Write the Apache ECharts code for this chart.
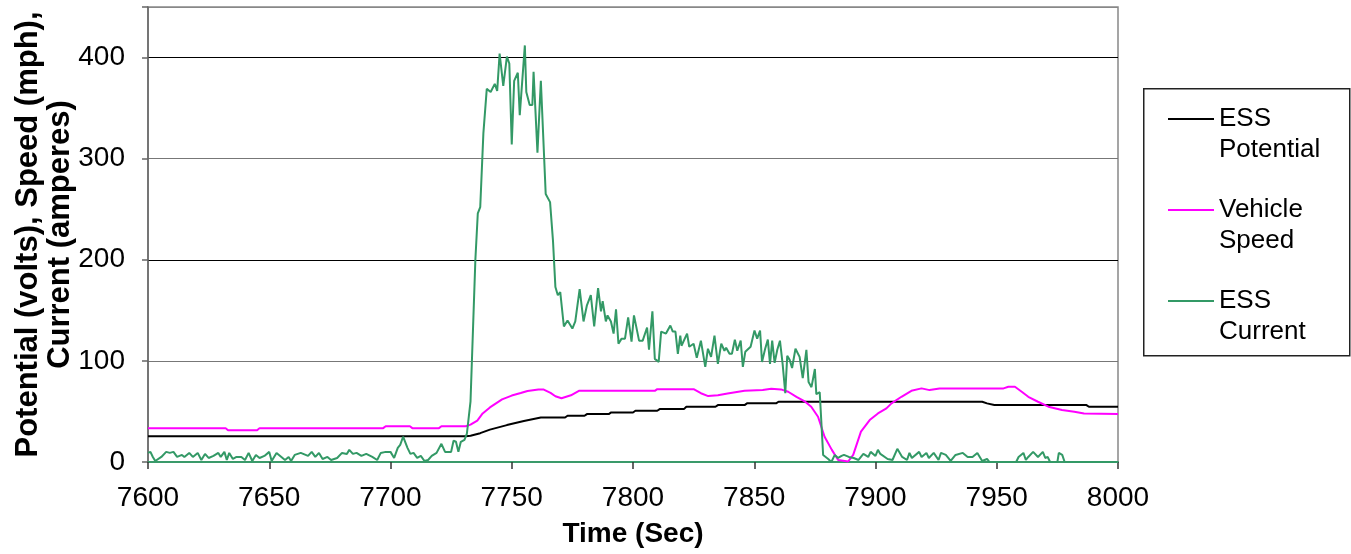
<!DOCTYPE html>
<html>
<head>
<meta charset="utf-8">
<script src="https://cdn.jsdelivr.net/npm/echarts@6/dist/echarts.min.js"></script>
<style>
  html, body { margin: 0; padding: 0; background: #fff; }
  #chart { width: 1351px; height: 554px; }
</style>
</head>
<body>
<div id="chart"></div>
<script>
// ESS potential / vehicle speed / ESS current vs time
var xTicks = [7600, 7650, 7700, 7750, 7800, 7850, 7900, 7950, 8000];
var yTicks = [0, 100, 200, 300, 400];

var potentialTime = [7600, 7731, 7733, 7737, 7741, 7748, 7755, 7762, 7772, 7773, 7780, 7781, 7790, 7791, 7800, 7801,
	7810, 7811, 7821, 7822, 7834, 7835, 7846, 7847, 7859, 7860, 7944, 7946, 7949, 7987, 7988, 8000];
var potentialVolts = [25.5, 25.5, 26, 28.5, 32, 36.5, 40.5, 44, 44, 45.7, 45.7, 47.4, 47.4, 49, 49, 50.7,
	50.7, 52.3, 52.3, 54.6, 54.6, 56.3, 56.3, 58, 58, 59.6, 59.6, 58, 56.3, 56.3, 54.6, 54.6];

var speedTime = [7600, 7632, 7633, 7645, 7646, 7697, 7698, 7708, 7709, 7720, 7721, 7731, 7733, 7735.8, 7738, 7741,
	7746, 7750, 7753.7, 7756.5, 7761, 7763, 7766, 7768, 7770.5, 7774.4, 7777.7, 7809, 7810, 7825, 7828, 7831,
	7835, 7839, 7846, 7853.5, 7857, 7861, 7864, 7867.4, 7871, 7873.5, 7876.3, 7879, 7882, 7884.6, 7888.7, 7890.8,
	7894, 7897.6, 7901, 7904.5, 7906.6, 7910.7, 7914.8, 7919, 7922.3, 7926.4, 7952.8, 7954.8, 7957.5, 7960.3,
	7963, 7967, 7971.3, 7976.9, 7982, 7986, 8000];
var speedMph = [33.5, 33.5, 31.3, 31.3, 33.5, 33.5, 35.3, 35.3, 33.5, 33.5, 35.3, 35.3, 37, 41, 48, 54,
	62, 65.7, 68.3, 70.3, 71.8, 71.8, 68.3, 65, 63, 66, 70.4, 70.4, 72, 72, 68, 65.2,
	66, 67.8, 70.4, 71.1, 72.5, 71.8, 69.5, 64.5, 59.6, 54.7, 44.8, 25, 12, 2, 0.5, 7,
	30, 41.5, 48, 53, 58, 64.5, 70.4, 72.8, 71.1, 72.8, 72.8, 74.4, 74.4, 69.5,
	64.5, 59.6, 54.7, 51.4, 49.7, 48, 47.4];

var currentTime = [7600, 7601, 7602, 7603, 7605.5, 7607.5, 7609, 7610.5, 7612, 7614, 7615, 7617, 7618.5, 7620.5, 7622, 7623.5,
	7625, 7627, 7629, 7630, 7631.5, 7632.5, 7633.5, 7635, 7636.5, 7638.5, 7640, 7641.5, 7643, 7644.5, 7646, 7648,
	7650, 7651, 7653, 7655, 7656.5, 7658, 7659, 7660.5, 7663, 7665, 7666, 7667.5, 7669, 7670.5, 7672, 7674,
	7675.5, 7678, 7680, 7682, 7683, 7684.5, 7686, 7688, 7690, 7692.5, 7694.5, 7696, 7698, 7700, 7701.5, 7703,
	7704, 7705.2, 7707, 7708.2, 7709.5, 7711, 7712.5, 7714, 7715.5, 7717, 7719, 7721, 7722.5, 7725, 7726, 7727,
	7728, 7729, 7730.5, 7731.5, 7733, 7734, 7735, 7736, 7737, 7738.3, 7739.7, 7741.3, 7743, 7744, 7745, 7746.5,
	7748, 7749, 7750, 7751, 7752.5, 7753.3, 7755.4, 7756, 7757.4, 7758.5, 7759, 7760.6, 7762, 7764, 7765.8, 7767,
	7768, 7769, 7770, 7771.5, 7773, 7775, 7776.2, 7778, 7779.6, 7781, 7782.6, 7784, 7785.6, 7786.8, 7787.5, 7788.8,
	7789.5, 7790.9, 7792, 7793, 7794, 7795.3, 7796.7, 7798, 7799.4, 7800.4, 7802.5, 7804, 7805.8, 7806.6, 7808, 7809,
	7810.6, 7811.6, 7813.6, 7815.4, 7816.4, 7817.5, 7818.5, 7819.5, 7820, 7822.3, 7823.2, 7825, 7826.3, 7828, 7829.8, 7830.9,
	7832.2, 7833.6, 7835, 7836.4, 7837.7, 7838.4, 7839.8, 7840.8, 7842, 7843, 7844.4, 7845.3, 7846.3, 7848.5, 7850.1, 7851.2,
	7852.4, 7853.2, 7854.5, 7855.6, 7856.5, 7857.4, 7858.4, 7859.5, 7860.6, 7861.7, 7862.8, 7863.6, 7864.6, 7865.6, 7867, 7868.7,
	7870, 7871.5, 7872.4, 7873.6, 7875, 7875.6, 7877, 7878.4, 7880.5, 7881.8, 7883.2, 7884.6, 7886, 7887, 7889, 7891,
	7893, 7895, 7897, 7898, 7900, 7901, 7902, 7905, 7907, 7909, 7911, 7913, 7914, 7915, 7918, 7919,
	7921, 7922, 7924, 7926, 7927, 7929, 7931, 7933, 7936, 7938, 7940, 7942, 7944, 7946, 7947, 7958,
	7959, 7961, 7962, 7963, 7965, 7967, 7969, 7970, 7971, 7972, 7975, 7975.6, 7977, 7978, 8000];
var currentAmps = [9, 10, 5, 1, 5, 10, 9, 10, 5, 7, 5, 9, 5, 9, 2, 8,
	4, 6, 9, 5, 10, 2, 9, 3, 5, 5, 2, 9, 1, 7, 4, 6,
	10, 1, 9, 5, 2, 5, 1, 7, 9, 7, 6, 10, 5, 9, 3, 5,
	2, 4, 9, 8, 12, 8, 9, 6, 8, 5, 2, 9, 10, 10, 4, 14,
	17, 25, 14, 8, 9, 4, 6, 1, 2, 6, 9, 18, 10, 10, 21, 20,
	10, 20, 22, 28, 60, 130, 200, 246, 252, 325, 369, 366, 374, 367, 404, 372,
	401, 394, 314, 377, 385, 343, 412, 366, 353, 353, 386, 306, 377, 265, 257, 219,
	173, 165, 168, 134, 140, 132, 139, 171, 139, 155, 165, 134, 172, 149, 159, 139,
	145, 139, 127, 151, 117, 122, 122, 143, 119, 145, 120, 120, 133, 111, 149, 102,
	99, 129, 127, 135, 129, 129, 107, 125, 115, 127, 114, 117, 103, 120, 94, 112,
	104, 125, 97, 117, 110, 113, 107, 107, 121, 110, 120, 94, 109, 114, 130, 122,
	130, 99, 112, 121, 97, 120, 98, 111, 120, 97, 68, 105, 101, 93, 112, 104,
	83, 111, 79, 74, 92, 67, 69, 7, 3, 0, 7, 4, 6, 7, 5, 4,
	2, 8, 5, 10, 6, 12, 8, 3, 2, 13, 5, 2, 9, 4, 10, 5,
	9, 4, 9, 2, 9, 7, 1, 7, 9, 5, 5, 9, 1, 3, 0, 0,
	5, 9, 2, 5, 10, 5, 10, 4, 5, 0, 0, 9, 7, 0, 0];

var FONT = '"Liberation Sans", Arial, sans-serif';

function pairs(xs, ys) {
	var out = [];
	for (var i = 0; i < xs.length; i++) {
		out.push([xs[i], ys[i]]);
	}
	return out;
}

var myChart = echarts.init(document.getElementById('chart'), null, { renderer: 'canvas' });
var option = {
	animation: false,
	backgroundColor: '#fff',
	grid: {
		left: 148, right: 233, top: 7, bottom: 92,
		outerBoundsMode: 'none',
		show: true, borderColor: '#888', borderWidth: 1.5, backgroundColor: 'transparent'
	},
	legend: {
		orient: 'vertical',
		left: 1168, top: 72.5,
		padding: 0,
		icon: 'rect',
		itemWidth: 46, itemHeight: 2, itemGap: -2,
		data: ['ESS\nPotential', 'Vehicle\nSpeed', 'ESS\nCurrent'],
		// blank first line so the icon sits level with the first text line
		formatter: function(name) { return ' \n' + name; },
		textStyle: { fontFamily: FONT, fontSize: 26, lineHeight: 31, color: '#000' }
	},
	graphic: [{
		type: 'rect', left: 1143, top: 88, z: 0,
		shape: { width: 206, height: 267 },
		style: { fill: 'transparent', stroke: '#222', lineWidth: 1.5 }
	}],
	xAxis: {
		type: 'value', min: 7600, max: 8000, interval: 50,
		name: 'Time (Sec)', nameLocation: 'middle', nameGap: 58,
		nameTextStyle: { fontFamily: FONT, fontSize: 28, fontWeight: 'bold', color: '#000' },
		axisLine: { lineStyle: { color: '#3a9a6a', width: 2 } },
		axisTick: { show: true, length: 7, lineStyle: { color: '#333', width: 1.5 } },
		axisLabel: {
			fontFamily: FONT, fontSize: 28, color: '#000', margin: 22,
			formatter: function(v) { return xTicks.indexOf(v) >= 0 ? String(v) : ''; }
		},
		splitLine: { show: false }
	},
	yAxis: {
		type: 'value', min: 0, max: 450, interval: 100,
		name: 'Potential (volts), Speed (mph),\nCurrent (amperes)', nameLocation: 'middle',
		nameGap: 72, nameMoveOverlap: false,
		nameTextStyle: { fontFamily: FONT, fontSize: 31, fontWeight: 'bold', color: '#000', lineHeight: 32 },
		axisLine: { show: true, lineStyle: { color: '#666', width: 1.5 } },
		axisTick: { show: true, length: 6, lineStyle: { color: '#666', width: 1.5 } },
		axisLabel: {
			fontFamily: FONT, fontSize: 28, color: '#000', margin: 23,
			formatter: function(v) { return yTicks.indexOf(v) >= 0 ? String(v) : ''; }
		},
		splitLine: { show: true, lineStyle: { color: ['#666', '#777', '#000', '#777', '#000', '#888'], width: 1.2 } }
	},
	series: [{
		name: 'ESS\nPotential', type: 'line', showSymbol: false, symbol: 'none',
		lineStyle: { color: '#000', width: 2 }, itemStyle: { color: '#000' },
		data: pairs(potentialTime, potentialVolts)
	}, {
		name: 'Vehicle\nSpeed', type: 'line', showSymbol: false, symbol: 'none',
		lineStyle: { color: '#ff00ff', width: 2 }, itemStyle: { color: '#ff00ff' },
		data: pairs(speedTime, speedMph)
	}, {
		name: 'ESS\nCurrent', type: 'line', showSymbol: false, symbol: 'none',
		lineStyle: { color: '#339966', width: 2 }, itemStyle: { color: '#339966' },
		data: pairs(currentTime, currentAmps)
	}]
};
myChart.setOption(option);
</script>
</body>
</html>
